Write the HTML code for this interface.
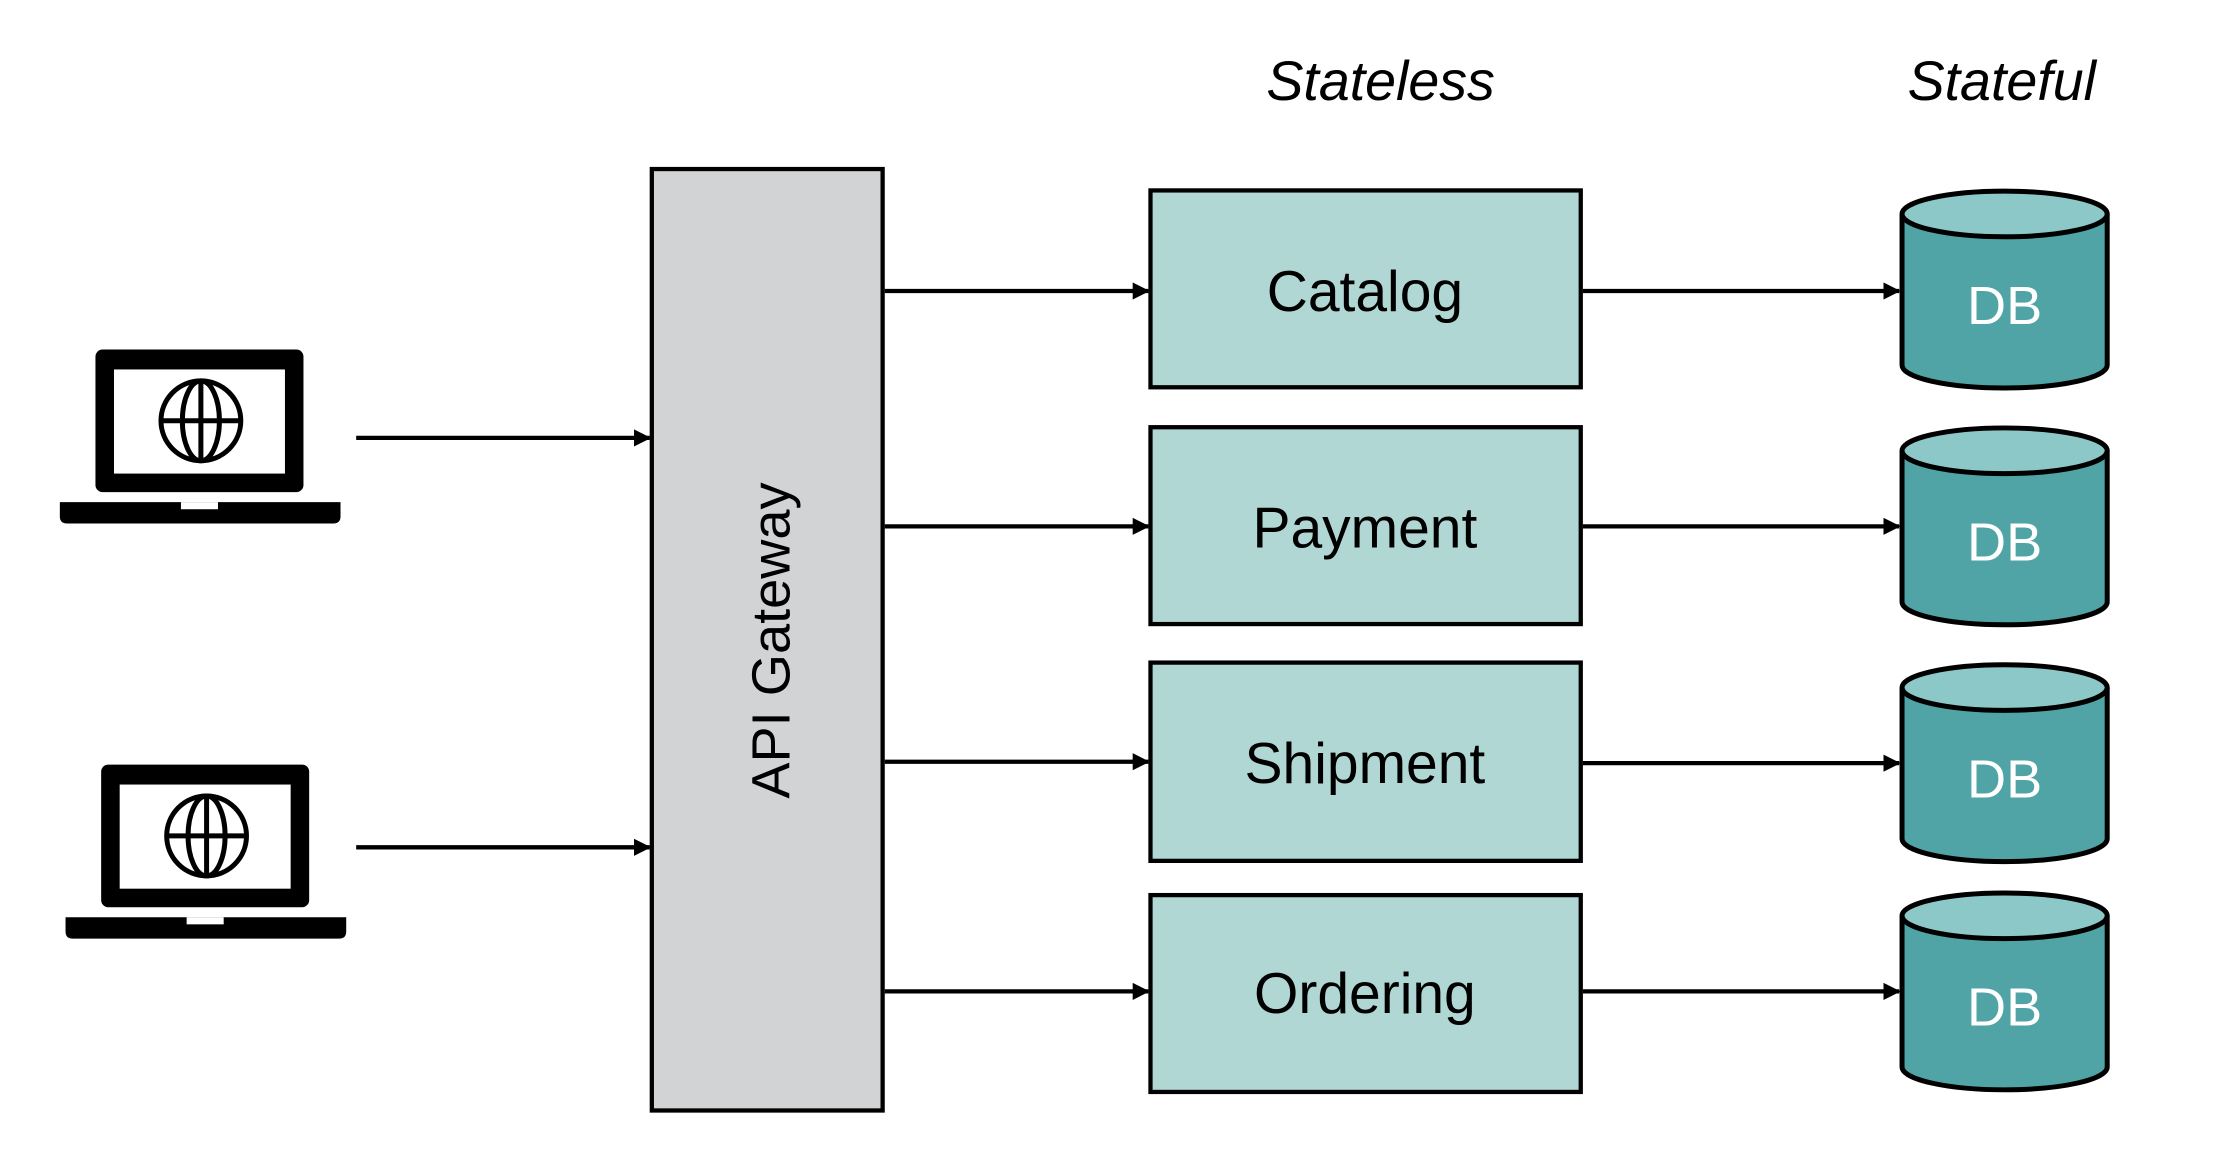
<!DOCTYPE html>
<html><head><meta charset="utf-8"><style>
html,body{margin:0;padding:0;background:#fff;}
svg{display:block;}
text{font-family:"Liberation Sans",sans-serif;}
</style></head><body>
<svg width="2234" height="1154" viewBox="0 0 1568 809" preserveAspectRatio="none" xmlns="http://www.w3.org/2000/svg">
<defs>
<marker id="a" markerWidth="12" markerHeight="12" refX="11" refY="6" orient="auto" markerUnits="userSpaceOnUse">
<path d="M0,0 L12,6 L0,12 z" fill="#000"/>
</marker>
</defs>
<text x="969" y="70" font-size="39" font-style="italic" text-anchor="middle">Stateless</text>
<text x="1405" y="70" font-size="39" font-style="italic" text-anchor="middle">Stateful</text>

<g id="lap">
<rect x="67" y="245" width="146" height="100" rx="5" fill="#000"/>
<rect x="80" y="259" width="120" height="73" fill="#fff"/>
<path d="M42,352 H239 V362 Q239,367 234,367 H47 Q42,367 42,362 Z" fill="#000"/>
<rect x="127" y="352" width="26" height="5" fill="#fff"/>
<g fill="none" stroke="#000" stroke-width="3.5">
<circle cx="141" cy="295" r="28"/>
<ellipse cx="141" cy="295" rx="13" ry="28"/>
<line x1="141" y1="267" x2="141" y2="323"/>
<line x1="113" y1="295" x2="169" y2="295"/>
</g>
</g>
<use href="#lap" transform="translate(4,291)"/>

<g stroke="#000" stroke-width="3" fill="none" marker-end="url(#a)">
<line x1="250" y1="307" x2="456" y2="307"/>
<line x1="250" y1="594" x2="456" y2="594"/>
<line x1="621" y1="204" x2="806" y2="204"/>
<line x1="621" y1="369" x2="806" y2="369"/>
<line x1="621" y1="534" x2="806" y2="534"/>
<line x1="621" y1="695" x2="806" y2="695"/>
<line x1="1111" y1="204" x2="1333" y2="204"/>
<line x1="1111" y1="369" x2="1333" y2="369"/>
<line x1="1111" y1="535" x2="1333" y2="535"/>
<line x1="1111" y1="695" x2="1333" y2="695"/>
</g>

<rect x="457.5" y="118.5" width="162" height="660" fill="#d1d3d4" stroke="#000" stroke-width="3"/>
<text transform="translate(554,449) rotate(-90)" font-size="38" text-anchor="middle">API Gateway</text>

<g fill="#b0d7d4" stroke="#000" stroke-width="3">
<rect x="807.5" y="133.5" width="302" height="138"/>
<rect x="807.5" y="299.5" width="302" height="138"/>
<rect x="807.5" y="464.5" width="302" height="139"/>
<rect x="807.5" y="627.5" width="302" height="138"/>
</g>
<g font-size="40" text-anchor="middle">
<text x="958" y="218">Catalog</text>
<text x="958" y="384">Payment</text>
<text x="958" y="549">Shipment</text>
<text x="958" y="710">Ordering</text>
</g>

<g id="db">
<path d="M1335,150 V256 A72,16 0 0 0 1479,256 V150" fill="#50a4a6" stroke="#000" stroke-width="3.5"/>
<ellipse cx="1407" cy="150" rx="72" ry="16" fill="#8dc8c9" stroke="#000" stroke-width="3.5"/>
<text x="1407" y="227" font-size="38" fill="#fff" text-anchor="middle">DB</text>
</g>
<use href="#db" transform="translate(0,166)"/>
<use href="#db" transform="translate(0,332)"/>
<use href="#db" transform="translate(0,492)"/>
</svg>
</body></html>
